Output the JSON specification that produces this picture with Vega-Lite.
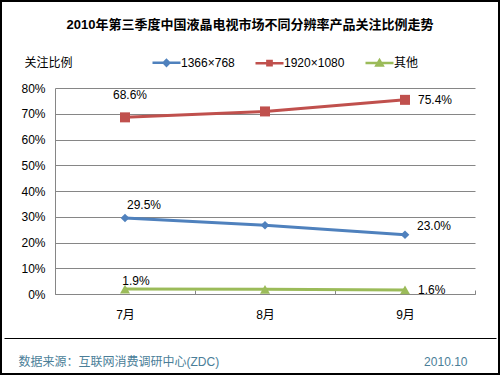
{
  "$schema": "https://vega.github.io/schema/vega-lite/v6.json",
  "width": 500,
  "height": 375,
  "autosize": {"type": "none"},
  "padding": 0,
  "background": "#ffffff",
  "config": {
    "font": "Liberation Sans, Noto Sans CJK SC, sans-serif",
    "view": {"stroke": "#000000", "strokeWidth": 4},
    "axis": {"labelFont": "Liberation Sans, Noto Sans CJK SC", "titleFont": "Liberation Sans, Noto Sans CJK SC"}
  },
  "title": {
    "text": "2010年第三季度中国液晶电视市场不同分辨率产品关注比例走势",
    "font": "Liberation Sans, Noto Sans CJK SC",
    "fontSize": 13,
    "fontWeight": "bold",
    "color": "#000000",
    "anchor": "middle",
    "baseline": "middle",
    "offset": -38
  },
  "datasets": {
    "share": [
      {"s": "1366×768", "m": "7月", "v": 0.295},
      {"s": "1366×768", "m": "8月", "v": 0.267},
      {"s": "1366×768", "m": "9月", "v": 0.230},
      {"s": "1920×1080", "m": "7月", "v": 0.686},
      {"s": "1920×1080", "m": "8月", "v": 0.709},
      {"s": "1920×1080", "m": "9月", "v": 0.754},
      {"s": "其他", "m": "7月", "v": 0.019},
      {"s": "其他", "m": "8月", "v": 0.018},
      {"s": "其他", "m": "9月", "v": 0.016}
    ],
    "footer": [{"f": 0}, {"f": 1}]
  },
  "resolve": {"scale": {"x": "independent"}, "axis": {"x": "independent"}},
  "layer": [
    {
      "data": {"name": "share"},
      "encoding": {
        "x": {
          "field": "m", "type": "nominal", "sort": ["7月", "8月", "9月"],
          "scale": {"type": "band", "range": [55, 475], "paddingInner": 0, "paddingOuter": 0},
          "axis": {
            "orient": "bottom", "offset": -81, "title": "数据来源：互联网消费调研中心(ZDC)",
            "titleX": 18, "titleY": 67, "titleAlign": "left", "titleBaseline": "middle",
            "titleFontSize": 12, "titleFontWeight": "normal", "titleColor": "#4A7E98",
            "labelAngle": 0, "labelFontSize": 12, "labelColor": "#000000", "labelPadding": 19,
            "domainColor": "#868686", "domainWidth": 1,
            "ticks": true, "tickBand": "extent", "tickSize": -4, "tickColor": "#868686", "grid": false
          }
        },
        "y": {
          "field": "v", "type": "quantitative",
          "scale": {"domain": [0, 0.8], "range": [294, 88], "nice": false, "zero": true},
          "axis": {
            "orient": "left", "offset": -55, "values": [0, 0.1, 0.2, 0.3, 0.4, 0.5, 0.6, 0.7, 0.8],
            "format": ".0%", "labelFontSize": 12, "labelColor": "#000000", "labelPadding": 10,
            "ticks": false, "domainColor": "#868686", "grid": true, "gridColor": "#868686", "gridWidth": 1,
            "title": "关注比例", "titleAngle": 0, "titleX": -31, "titleY": 62, "titleAlign": "left",
            "titleBaseline": "middle", "titleFontSize": 12, "titleFontWeight": "normal", "titleColor": "#000000"
          }
        }
      },
      "layer": [
        {
          "mark": {"type": "line", "strokeWidth": 3},
          "encoding": {
            "stroke": {
              "field": "s", "type": "nominal",
              "scale": {"domain": ["1366×768", "1920×1080", "其他"], "range": ["#4F81BD", "#C0504D", "#9BBB59"]},
              "legend": {
                "orient": "none", "direction": "horizontal", "columns": 3, "legendX": 151, "legendY": 47,
                "title": null, "padding": 0, "labelFontSize": 12, "labelColor": "#000000", "labelOffset": -1,
                "columnPadding": 15, "symbolSize": 784, "symbolStrokeWidth": 2.5, "symbolOpacity": 1
              }
            }
          }
        },
        {
          "transform": [{"filter": "datum.s == '1366×768'"}],
          "mark": {"type": "point", "shape": "diamond", "filled": true, "opacity": 1, "size": 75},
          "encoding": {"fill": {"field": "s", "type": "nominal", "scale": {"domain": ["1366×768", "1920×1080", "其他"], "range": ["#4F81BD", "#C0504D", "#9BBB59"]}}}
        },
        {
          "transform": [{"filter": "datum.s == '1920×1080'"}],
          "mark": {"type": "point", "shape": "square", "filled": true, "opacity": 1, "size": 100},
          "encoding": {"fill": {"field": "s", "type": "nominal"}}
        },
        {
          "transform": [{"filter": "datum.s == '其他'"}],
          "mark": {"type": "point", "shape": "triangle-up", "filled": true, "opacity": 1, "size": 100},
          "encoding": {"fill": {"field": "s", "type": "nominal"}}
        },
        {
          "mark": {"type": "point", "filled": true, "opacity": 0},
          "encoding": {
            "shape": {
              "field": "s", "type": "nominal",
              "scale": {"domain": ["1366×768", "1920×1080", "其他"], "range": ["M-1,0H1M0,-0.2L0.2,0L0,0.2L-0.2,0Z", "M-1,0H1M-0.15,-0.15H0.15V0.15H-0.15Z", "M-1,0H1M0,-0.2L0.22,0.17H-0.22Z"]}
            },
            "fill": {"field": "s", "type": "nominal"},
            "stroke": {"field": "s", "type": "nominal"}
          }
        },
        {
          "transform": [{"filter": "datum.s == '1920×1080' && datum.m == '7月'"}],
          "mark": {"type": "text", "fontSize": 12, "color": "#000000", "align": "center", "baseline": "middle", "dx": 5, "dy": -22},
          "encoding": {"text": {"field": "v", "format": ".1%"}}
        },
        {
          "transform": [{"filter": "datum.s == '1366×768' && datum.m == '7月'"}],
          "mark": {"type": "text", "fontSize": 12, "color": "#000000", "align": "center", "baseline": "middle", "dx": 19, "dy": -13},
          "encoding": {"text": {"field": "v", "format": ".1%"}}
        },
        {
          "transform": [{"filter": "datum.s == '其他' && datum.m == '7月'"}],
          "mark": {"type": "text", "fontSize": 12, "color": "#000000", "align": "center", "baseline": "middle", "dx": 11, "dy": -8},
          "encoding": {"text": {"field": "v", "format": ".1%"}}
        },
        {
          "transform": [{"filter": "datum.s != '1366×768' && datum.m == '9月'"}],
          "mark": {"type": "text", "fontSize": 12, "color": "#000000", "align": "left", "baseline": "middle", "dx": 13, "dy": 0},
          "encoding": {"text": {"field": "v", "format": ".1%"}}
        },
        {
          "transform": [{"filter": "datum.s == '1366×768' && datum.m == '9月'"}],
          "mark": {"type": "text", "fontSize": 12, "color": "#000000", "align": "left", "baseline": "middle", "dx": 12, "dy": -9},
          "encoding": {"text": {"field": "v", "format": ".1%"}}
        }
      ]
    },
    {
      "data": {"name": "footer"},
      "mark": {"type": "point", "opacity": 0},
      "encoding": {
        "x": {
          "field": "f", "type": "quantitative",
          "scale": {"domain": [0, 1], "range": [4, 496], "nice": false, "zero": false},
          "axis": {
            "orient": "bottom", "offset": -37, "domainColor": "#000000", "domainWidth": 1,
            "ticks": false, "labels": false, "grid": false,
            "title": "2010.10", "titleX": 467, "titleY": 23, "titleAlign": "right",
            "titleBaseline": "middle", "titleFontSize": 12, "titleFontWeight": "normal", "titleColor": "#4A7E98"
          }
        }
      }
    }
  ]
}
